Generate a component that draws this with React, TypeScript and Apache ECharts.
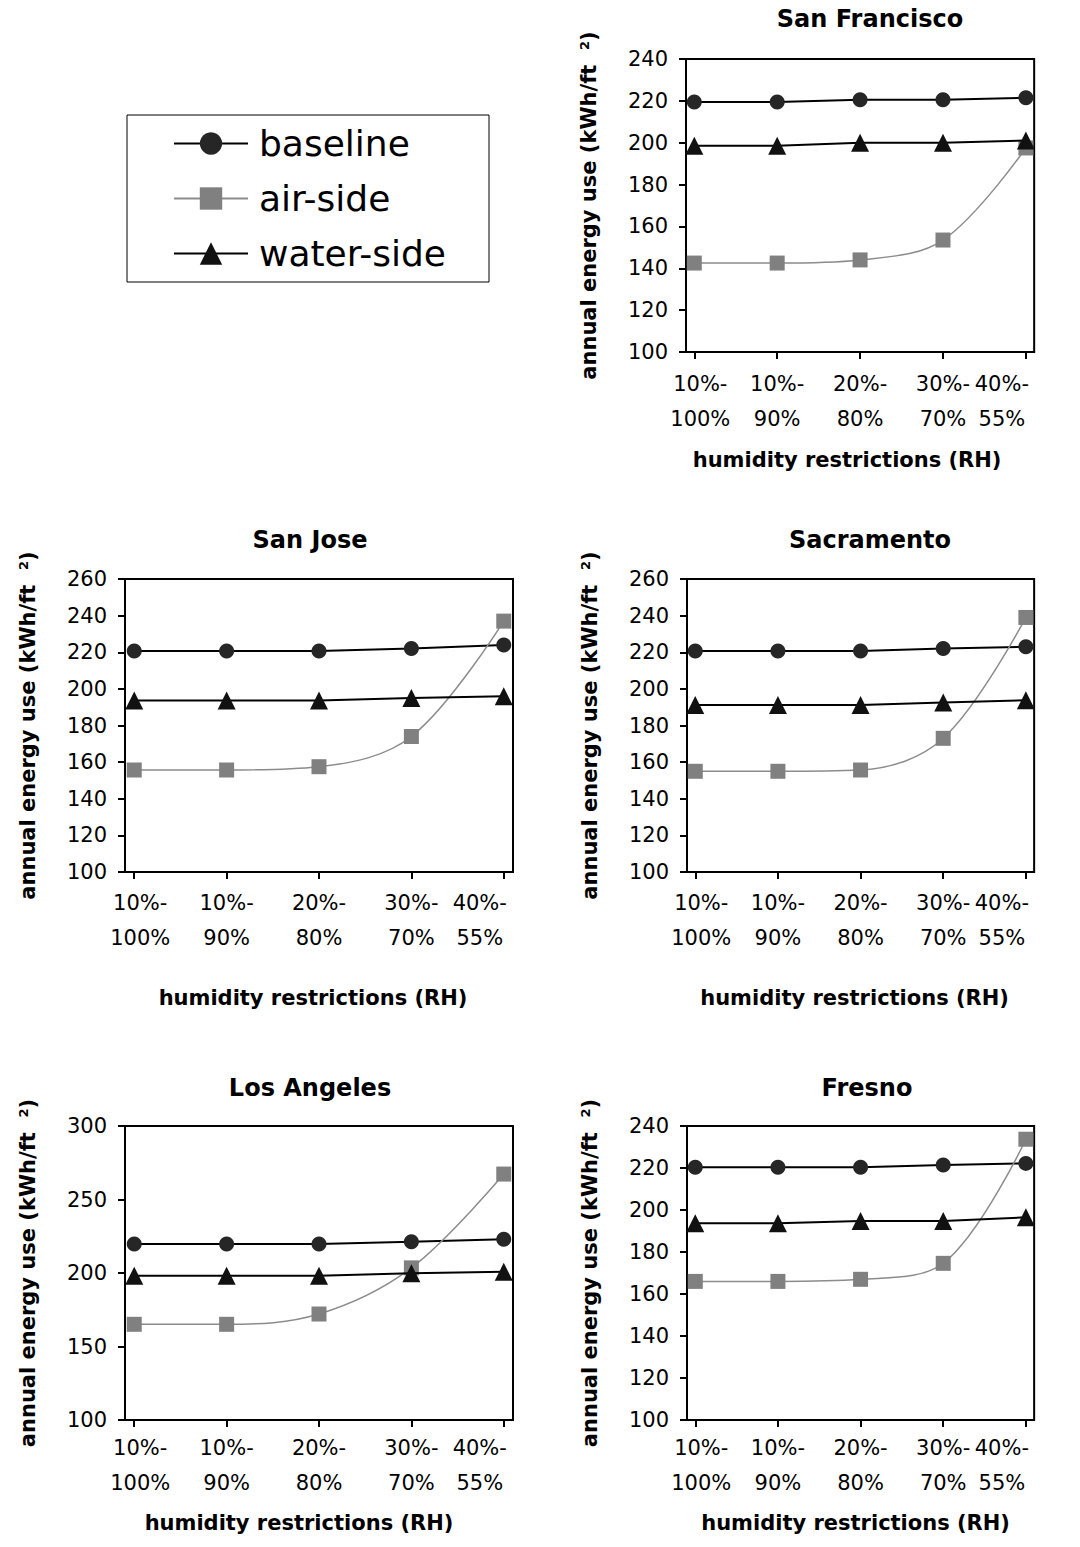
import React, { useEffect, useRef } from "react";
import * as echarts from "echarts";

// ---------- data ----------
const categories = ["10%-\n100%", "10%-\n90%", "20%-\n80%", "30%-\n70%", "40%-\n55%"];
const cities = ["San Francisco", "San Jose", "Sacramento", "Los Angeles", "Fresno"];
const seriesNames = ["baseline", "air-side", "water-side"];

const baselineSF = [219.5, 219.5, 220.5, 220.5, 221.5];
const airSideSF = [142.5, 142.5, 144, 153.5, 197.5];
const waterSideSF = [198.5, 198.5, 200, 200, 201];

const baselineSJ = [220.7, 220.7, 220.7, 222, 224];
const airSideSJ = [155.7, 155.7, 157.5, 174, 237];
const waterSideSJ = [193.6, 193.6, 193.6, 195, 196];

const baselineSac = [220.7, 220.7, 220.7, 222, 223];
const airSideSac = [155, 155, 155.7, 173, 239];
const waterSideSac = [191.2, 191.2, 191.2, 192.5, 193.8];

const baselineLA = [219.7, 219.7, 219.7, 221.3, 222.9];
const airSideLA = [165.1, 165.1, 172.1, 203.5, 267.3];
const waterSideLA = [198.2, 198.2, 198.2, 199.8, 200.8];

const baselineFresno = [220.3, 220.3, 220.3, 221.4, 222.2];
const airSideFresno = [166, 166, 167, 174.6, 233.7];
const waterSideFresno = [193.7, 193.7, 194.8, 194.8, 196.5];

const yMin = [100, 100, 100, 100, 100];
const yMax = [240, 260, 260, 300, 240];
const yInterval = [20, 20, 20, 50, 20];

const cityData = [
  [baselineSF, airSideSF, waterSideSF],
  [baselineSJ, airSideSJ, waterSideSJ],
  [baselineSac, airSideSac, waterSideSac],
  [baselineLA, airSideLA, waterSideLA],
  [baselineFresno, airSideFresno, waterSideFresno],
];

// ---------- layout ----------
const FONT = "DejaVu Sans";
const layouts = [
  { left: 686, top: 59, width: 388, height: 293, titleX: 870, titleY: 7, labelMargin: 14, nameGap: 96, nameShift: -13 },
  { left: 125, top: 579, width: 388, height: 293, titleX: 310, titleY: 528, labelMargin: 13, nameGap: 114, nameShift: -6 },
  { left: 687, top: 579, width: 387, height: 293, titleX: 870, titleY: 528, labelMargin: 13, nameGap: 114, nameShift: -6 },
  { left: 125, top: 1126, width: 388, height: 294, titleX: 310, titleY: 1076, labelMargin: 10, nameGap: 91, nameShift: -20 },
  { left: 687, top: 1126, width: 387, height: 294, titleX: 867, titleY: 1076, labelMargin: 10, nameGap: 91, nameShift: -5 },
];

const seriesStyles = [
  { symbol: "circle", symbolSize: 15, fill: "#262626", line: "#000", width: 2, smooth: false },
  { symbol: "rect", symbolSize: 15, fill: "#808080", line: "#8c8c8c", width: 1.5, smooth: 0.35 },
  { symbol: "triangle", symbolSize: 18, fill: "#111", line: "#000", width: 2, smooth: false },
];

function labelFormatter(v: number) {
  const idx = Math.round(v);
  const parts = (categories[idx] || "").split("\n");
  const key = idx === 0 ? "f" : idx === categories.length - 1 ? "e" : "c";
  return parts.map((p) => `{${key}|${p}}`).join("\n");
}

function buildOption() {
  const labelRich = (lh: number) => ({
    c: { fontSize: 21, fontFamily: FONT, color: "#000", lineHeight: lh },
    f: { fontSize: 21, fontFamily: FONT, color: "#000", lineHeight: lh, padding: [0, 0, 0, 12] },
    e: { fontSize: 21, fontFamily: FONT, color: "#000", lineHeight: lh, padding: [0, 48, 0, 0] },
  });

  const grid = layouts.map((l) => ({
    left: l.left,
    top: l.top,
    width: l.width,
    height: l.height,
    show: true,
    borderColor: "#000",
    borderWidth: 2,
    backgroundColor: "transparent",
    containLabel: false,
  }));

  const xAxis = layouts.map((l, i) => ({
    type: "value",
    gridIndex: i,
    min: -0.1,
    max: 4.1,
    name: "humidity restrictions (RH)",
    nameLocation: "middle",
    nameGap: l.nameGap,
    nameTextStyle: {
      fontSize: 21,
      fontWeight: "bold",
      fontFamily: FONT,
      color: "#000",
      lineHeight: 24,
      padding: l.nameShift < 0 ? [0, -2 * l.nameShift, 0, 0] : [0, 0, 0, 2 * l.nameShift],
    },
    axisLine: { show: true, onZero: false, lineStyle: { color: "#000", width: 2 } },
    axisTick: { show: true, length: 7, lineStyle: { color: "#000", width: 2 }, customValues: [0, 1, 2, 3, 4] },
    axisLabel: {
      show: true,
      margin: l.labelMargin,
      customValues: [0, 1, 2, 3, 4],
      formatter: labelFormatter,
      rich: labelRich(35),
    },
    splitLine: { show: false },
  }));

  const yAxis = layouts.map((l, i) => ({
    type: "value",
    gridIndex: i,
    min: yMin[i],
    max: yMax[i],
    interval: yInterval[i],
    name: "annual energy use (kWh/ft  {sup|2})",
    nameLocation: "middle",
    nameRotate: 90,
    nameGap: 87,
    nameTextStyle: {
      fontSize: 21,
      fontWeight: "bold",
      fontFamily: FONT,
      color: "#000",
      rich: {
        sup: { fontSize: 13, fontWeight: "bold", fontFamily: FONT, color: "#000", verticalAlign: "top", lineHeight: 13 },
      },
    },
    axisLine: { show: true, onZero: false, lineStyle: { color: "#000", width: 2 } },
    axisTick: { show: true, length: 7, lineStyle: { color: "#000", width: 2 } },
    axisLabel: { show: true, margin: 18, fontSize: 21, fontFamily: FONT, color: "#000" },
    splitLine: { show: false },
  }));

  const series: any[] = [];
  cityData.forEach((sets, i) => {
    sets.forEach((vals, k) => {
      const st = seriesStyles[k];
      series.push({
        type: "line",
        name: seriesNames[k],
        xAxisIndex: i,
        yAxisIndex: i,
        data: vals.map((v, j) => [j, v]),
        symbol: st.symbol,
        symbolSize: st.symbolSize,
        smooth: st.smooth,
        itemStyle: { color: st.fill },
        lineStyle: { color: st.line, width: st.width },
        z: 2 + k,
      });
    });
  });

  const title = layouts.map((l, i) => ({
    text: cities[i],
    left: l.titleX,
    top: l.titleY,
    textAlign: "center",
    padding: 0,
    textStyle: { fontSize: 24, fontWeight: "bold", fontFamily: FONT, color: "#000", lineHeight: 24 },
  }));

  return {
    animation: false,
    backgroundColor: "#fff",
    title,
    legend: {
      data: seriesNames,
      orient: "vertical",
      left: 127,
      top: 115,
      itemWidth: 74,
      itemHeight: 28,
      itemGap: 0,
      selectedMode: false,
      borderColor: "#000",
      borderWidth: 1,
      padding: [1, 43, 1, 46],
      textStyle: { fontSize: 36, fontFamily: FONT, color: "#000", lineHeight: 55, padding: [0, 0, 0, 6] },
    },
    grid,
    xAxis,
    yAxis,
    series,
  };
}

export default function App() {
  const ref = useRef<HTMLDivElement>(null);
  useEffect(() => {
    if (!ref.current) return;
    const chart = echarts.init(ref.current, null, { renderer: "svg" });
    chart.setOption(buildOption() as any);
    return () => chart.dispose();
  }, []);
  return (
    <div
      ref={ref}
      style={{ position: "absolute", left: 0, top: 0, width: 1080, height: 1547, background: "#fff" }}
    />
  );
}
